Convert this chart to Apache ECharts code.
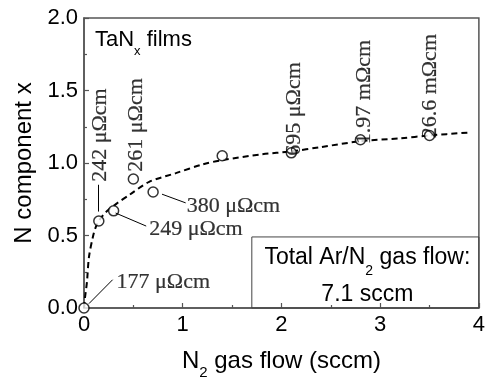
<!DOCTYPE html>
<html>
<head>
<meta charset="utf-8">
<script src="https://cdn.jsdelivr.net/npm/echarts@6/dist/echarts.min.js"></script>
<style>html,body{margin:0;padding:0;background:#fff}#c{width:488px;height:385px}</style>
</head>
<body>
<div id="c"></div>
<script>
// measured N content vs N2 flow
const flowX = [0, 0.15, 0.3, 0.5, 0.7, 1.4, 2.1, 2.8, 3.5];
const nContent = [0, 0.60, 0.67, 0.89, 0.80, 1.05, 1.07, 1.16, 1.19];
// dashed guide curve
const curveX = [0, 0.01, 0.03, 0.05, 0.09, 0.12, 0.16, 0.22, 0.33, 0.46, 0.66, 0.93, 1.2, 1.4, 1.8, 2.1, 2.4, 2.8, 3.2, 3.5, 3.9];
const curveY = [0, 0.07, 0.18, 0.35, 0.49, 0.56, 0.61, 0.66, 0.72, 0.78, 0.87, 0.93, 0.99, 1.02, 1.06, 1.08, 1.11, 1.15, 1.17, 1.19, 1.21];
// resistivity labels
const vertLabels = ['242 μΩcm', '261 μΩcm', '695 μΩcm', '1.97 mΩcm', '26.6 mΩcm'];
const horizLabels = ['380 μΩcm', '249 μΩcm', '177 μΩcm'];
const xTicks = [0, 1, 2, 3, 4];
const yTicks = [0, 0.5, 1.0, 1.5, 2.0];

const SERIF = "'Liberation Serif','Times New Roman',serif";
const SANS = "'Liberation Sans',Arial,sans-serif";

// label anchor positions (layout)
const vertAnchors = [[0.16, 0.87], [0.53, 0.94], [2.13, 1.05], [2.84, 1.13], [3.51, 1.17]];
const horizAnchors = [[1.04, 0.705], [0.66, 0.545], [0.33, 0.175]];

const chart = echarts.init(document.getElementById('c'), null, {renderer: 'canvas'});
const labelBase = {fontFamily: SERIF, fontSize: 22, color: '#000', textBorderWidth: 0.2, textBorderColor: '#000'};
const option = {
  animation: false,
  backgroundColor: '#fff',
  grid: {left: 84, right: 4, top: 18, bottom: 69, show: true, borderColor: '#555', borderWidth: 1.5, backgroundColor: 'transparent'},
  title: {
    text: 'TaN{sub|x} films', left: 95, top: 22, padding: 0,
    textStyle: {fontFamily: SANS, fontSize: 22, fontWeight: 'normal', color: '#000', lineHeight: 30,
      rich: {sub: {fontFamily: SANS, fontSize: 13, color: '#000', verticalAlign: 'bottom', lineHeight: 36}}}
  },
  xAxis: {
    type: 'value', min: 0, max: 4, interval: 1,
    name: 'N{sub|2} gas flow (sccm)', nameLocation: 'middle', nameGap: 34,
    nameTextStyle: {fontFamily: SANS, fontSize: 24, color: '#000', lineHeight: 30,
      rich: {sub: {fontFamily: SANS, fontSize: 15, color: '#000', verticalAlign: 'bottom', lineHeight: 38}}},
    axisLine: {show: true, lineStyle: {color: '#555', width: 1.5}},
    axisTick: {show: true, inside: true, length: 5, lineStyle: {color: '#555', width: 1.2}},
    minorTick: {show: true, splitNumber: 2, length: 3, lineStyle: {color: '#555', width: 1.2}},
    splitLine: {show: false},
    axisLabel: {fontFamily: SANS, fontSize: 22, color: '#000', margin: 6,
      formatter: v => xTicks.includes(v) ? String(v) : ''}
  },
  yAxis: {
    type: 'value', min: 0, max: 2, interval: 0.5,
    name: 'N component x', nameLocation: 'middle', nameGap: 46,
    nameTextStyle: {fontFamily: SANS, fontSize: 24, color: '#000'},
    axisLine: {show: true, lineStyle: {color: '#555', width: 1.5}},
    axisTick: {show: true, inside: true, length: 5, lineStyle: {color: '#555', width: 1.2}},
    minorTick: {show: true, splitNumber: 2, length: 3, lineStyle: {color: '#555', width: 1.2}},
    splitLine: {show: false},
    axisLabel: {fontFamily: SANS, fontSize: 22, color: '#000', margin: 6,
      formatter: v => yTicks.some(t => Math.abs(t - v) < 1e-9) ? v.toFixed(1) : ''}
  },
  series: [
    {
      type: 'line', name: 'curve', data: curveX.map((x, i) => [x, curveY[i]]),
      showSymbol: false, smooth: 0.3, lineStyle: {color: '#000', width: 2, type: [6, 4]}, z: 3,
      markLine: {
        silent: true, symbol: ['none', 'arrow'], symbolSize: [0, 9],
        lineStyle: {color: '#000', width: 1, type: 'solid'}, label: {show: false},
        data: [
          [{coord: [0.14, 0.85]}, {coord: [0.14, 0.665]}],
          [{coord: [0.63, 0.565]}, {coord: [0.32, 0.655]}],
          [{coord: [1.03, 0.725]}, {coord: [0.79, 0.785]}],
          [{coord: [0.29, 0.195]}, {coord: [0.05, 0.03]}]
        ]
      },
      markArea: {
        silent: true,
        itemStyle: {color: 'rgba(0,0,0,0)', borderColor: '#444', borderWidth: 1},
        label: {show: true, position: 'inside', fontFamily: SANS, fontSize: 23, color: '#000', lineHeight: 33,
          formatter: 'Total Ar/N{sub|2} gas flow:\n7.1 sccm', offset: [2, 2],
          rich: {sub: {fontFamily: SANS, fontSize: 14, color: '#000', verticalAlign: 'bottom', lineHeight: 40}}},
        data: [[{coord: [1.7, 0.49]}, {coord: [4, 0]}]]
      }
    },
    {
      type: 'scatter', name: 'points', data: flowX.map((x, i) => [x, nContent[i]]),
      symbol: 'circle', symbolSize: 10,
      itemStyle: {color: '#fff', borderColor: '#000', borderWidth: 1.5}, z: 4
    },
    {
      type: 'scatter', name: 'vlabels', symbolSize: 1, itemStyle: {color: 'rgba(0,0,0,0)'}, z: 5,
      data: vertAnchors.map((p, i) => ({value: p, name: vertLabels[i]})),
      label: Object.assign({show: true, position: 'inside', rotate: 90, align: 'left', verticalAlign: 'middle',
        formatter: p => p.name}, labelBase)
    },
    {
      type: 'scatter', name: 'hlabels', symbolSize: 1, itemStyle: {color: 'rgba(0,0,0,0)'}, z: 5,
      data: horizAnchors.map((p, i) => ({value: p, name: horizLabels[i]})),
      label: Object.assign({show: true, position: 'inside', align: 'left', verticalAlign: 'middle',
        formatter: p => p.name}, labelBase)
    }
  ]
};
chart.setOption(option);
</script>
</body>
</html>
